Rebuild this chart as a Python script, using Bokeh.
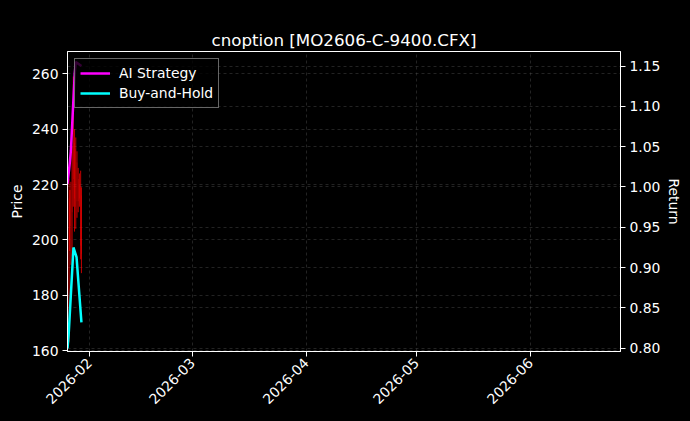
import math
import pandas as pd
from bokeh.plotting import figure
from bokeh.models import (ColumnDataSource, Range1d, LinearAxis, Grid, MonthsTicker,
                          DatetimeTickFormatter, NumeralTickFormatter, Legend, LegendItem,
                          Title, GlobalInlineStyleSheet)
from bokeh.embed import file_html
from bokeh.resources import INLINE

TITLE = "cnoption [MO2606-C-9400.CFX]"

# --- candles (all closing lower than they opened) ---
candle_time = ["2026-01-26 10:00", "2026-01-26 14:00", "2026-01-26 22:00", "2026-01-27 06:00",
               "2026-01-27 14:00", "2026-01-27 22:00", "2026-01-28 06:00", "2026-01-28 14:00",
               "2026-01-28 22:00", "2026-01-29 06:00", "2026-01-29 14:00", "2026-01-29 19:00"]
candle_open = [215, 214, 218, 232, 236, 235, 233, 228, 222, 220, 219, 216]
candle_high = [222, 218, 221, 234, 259, 240, 237, 232, 226, 224, 225, 219]
candle_low = [163, 196, 191, 194, 212, 203, 204, 208, 210, 212, 193, 188]
candle_close = [168, 200, 205, 210, 222, 215, 212, 214, 214, 215, 198, 195]

# --- equity curves ---
ai_time = ["2026-01-26 00:00", "2026-01-26 15:00", "2026-01-26 22:00", "2026-01-27 23:00",
           "2026-01-28 06:00", "2026-01-29 19:00"]
ai_return = [1.004, 1.030, 1.045, 1.140, 1.155, 1.150]

bh_time = ["2026-01-26 00:00", "2026-01-26 07:00", "2026-01-27 15:00", "2026-01-28 11:00",
           "2026-01-29 19:00"]
bh_return = [0.800, 0.815, 0.925, 0.913, 0.832]

x_start, x_end = "2026-01-26 00:00", "2026-06-25 12:00"
price_range = (159.7, 268.05)
return_range = (0.796, 1.168)

FONT = "DejaVu Sans"
TXT = "#ffffff"

df = pd.DataFrame({
    "date": pd.to_datetime(candle_time),
    "open": candle_open, "high": candle_high,
    "low": candle_low, "close": candle_close,
})
source = ColumnDataSource(df)
ai_src = ColumnDataSource(dict(date=pd.to_datetime(ai_time), ret=ai_return))
bh_src = ColumnDataSource(dict(date=pd.to_datetime(bh_time), ret=bh_return))

p = figure(
    x_axis_type="datetime",
    width=690, height=421,
    x_range=Range1d(pd.Timestamp(x_start), pd.Timestamp(x_end)),
    y_range=Range1d(*price_range),
    title=TITLE,
    background_fill_color="#000000",
    border_fill_color="#000000",
    toolbar_location=None,
    output_backend="svg",
    min_border_left=67, min_border_right=70, min_border_top=51, min_border_bottom=70,
)
# black page, no body margin, so the canvas fills the window like the original figure
p.stylesheets = [GlobalInlineStyleSheet(css="html, body { margin: 0; padding: 0; background: #000000; }")]
p.extra_y_ranges = {"ret": Range1d(*return_range)}

p.outline_line_color = "#ffffff"
p.outline_line_width = 1

# --- title (outermost panel) ---
p.title.text_color = TXT
p.title.text_font = FONT
p.title.text_font_size = "16.7px"
p.title.text_font_style = "normal"
p.title.align = "center"
p.title.vertical_align = "top"
p.title.standoff = 0

# invisible spacer between frame and title, pushes the title up
spacer = Title(text=".", text_font_size="1px", text_color="#000000", text_alpha=0,
               standoff=18)
p.add_layout(spacer, "above")

# --- axes ---
def style_axis(ax, label_standoff=6):
    ax.axis_line_color = "#ffffff"
    ax.major_tick_line_color = "#ffffff"
    ax.minor_tick_line_color = None
    ax.major_tick_out = 5
    ax.major_tick_in = 0
    ax.major_label_standoff = 4
    ax.major_label_text_color = TXT
    ax.major_label_text_font = FONT
    ax.major_label_text_font_size = "13.9px"
    ax.axis_label_standoff = label_standoff
    ax.axis_label_text_color = TXT
    ax.axis_label_text_font = FONT
    ax.axis_label_text_font_size = "13.9px"
    ax.axis_label_text_font_style = "normal"

p.xaxis.ticker = MonthsTicker(months=list(range(12)))
p.xaxis.formatter = DatetimeTickFormatter(months="%Y-%m", days="%Y-%m", years="%Y-%m")
p.xaxis.major_label_orientation = math.pi / 4
style_axis(p.xaxis[0])

p.yaxis.axis_label = "Price"
p.yaxis.ticker.desired_num_ticks = 6
style_axis(p.yaxis[0], label_standoff=4)

r_axis = LinearAxis(y_range_name="ret", axis_label="Return")
r_axis.ticker.desired_num_ticks = 8
r_axis.formatter = NumeralTickFormatter(format="0.00")
style_axis(r_axis, label_standoff=3)
p.add_layout(r_axis, "right")

# --- grids ---
for g in p.grid:
    g.grid_line_color = "#555555"
    g.grid_line_dash = "3 3"
    g.grid_line_width = 0.6
    g.grid_line_alpha = 0.7
rgrid = Grid(dimension=1, ticker=r_axis.ticker, y_range_name="ret",
             grid_line_color="#555555", grid_line_dash="3 3",
             grid_line_width=0.6, grid_line_alpha=0.7)
p.add_layout(rgrid)

# --- candles ---
candle_width = pd.Timedelta(hours=2).total_seconds() * 1000
p.segment(x0="date", y0="high", x1="date", y1="low", source=source,
          color="#ff0000", line_width=0.9, line_alpha=0.85)
p.vbar(x="date", width=candle_width, top="open", bottom="close", source=source,
       fill_color="#ff0000", line_color=None, alpha=0.85)

# --- equity lines ---
ai_line = p.line("date", "ret", source=ai_src, y_range_name="ret",
                 line_color="#ff00ff", line_width=2.5)
bh_line = p.line("date", "ret", source=bh_src, y_range_name="ret",
                 line_color="#00ffff", line_width=2.5)

legend = Legend(items=[LegendItem(label="AI Strategy", renderers=[ai_line]),
                       LegendItem(label="Buy-and-Hold", renderers=[bh_line])],
                location="top_left")
legend.margin = 7
legend.padding = 5
legend.spacing = 2
legend.glyph_width = 30
legend.glyph_height = 18
legend.label_standoff = 9
legend.label_text_color = TXT
legend.label_text_font = FONT
legend.label_text_font_size = "13.9px"
legend.background_fill_color = "#000000"
legend.background_fill_alpha = 0.8
legend.border_line_color = "#cccccc"
legend.border_line_width = 1
p.add_layout(legend, "center")

open("out.html", "w").write(file_html(p, INLINE))
